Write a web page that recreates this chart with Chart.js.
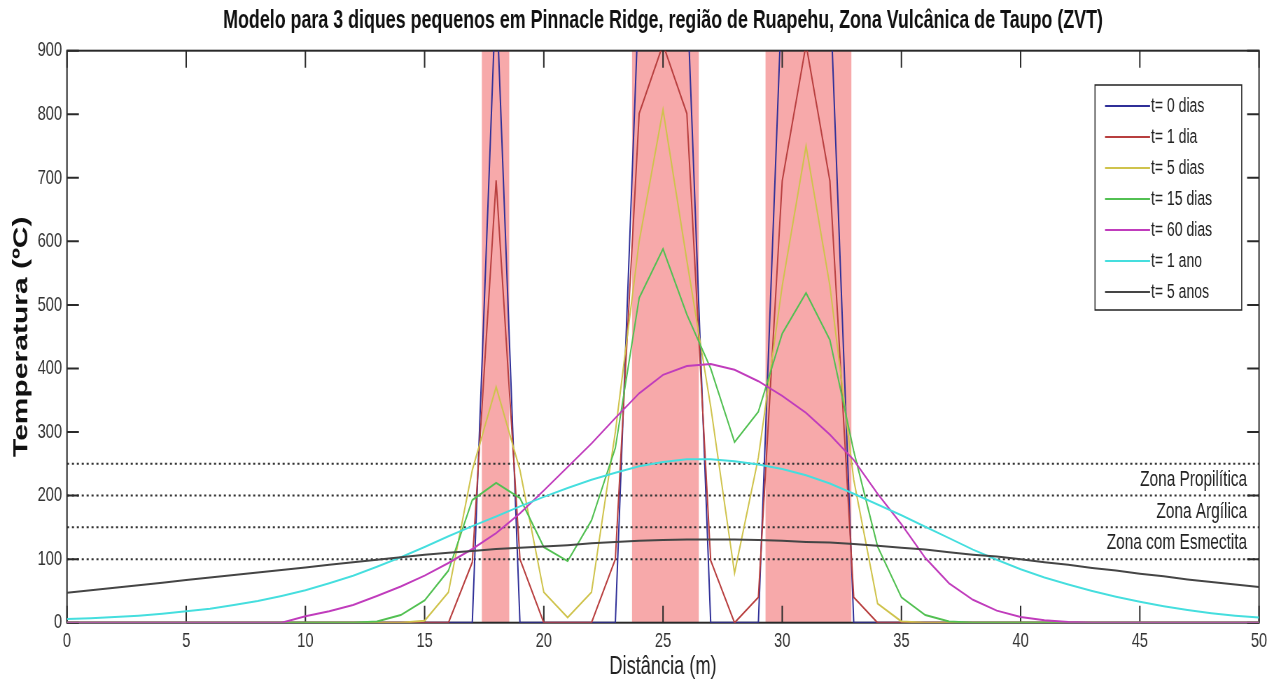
<!DOCTYPE html>
<html lang="pt">
<head>
<meta charset="utf-8">
<title>Modelo para 3 diques pequenos - Pinnacle Ridge</title>
<script src="https://cdn.jsdelivr.net/npm/chart.js@4.4.1/dist/chart.umd.min.js"></script>
<style>
    html, body { margin: 0; padding: 0; background: #fff; overflow: hidden; }
    /* A figura original vem "apertada" na horizontal: desenha-se larga e comprime-se */
    #moldura { width: 1817px; height: 685px; transform: scaleX(0.7); transform-origin: 0 0; }
</style>
</head>
<body>
<div id="moldura"><canvas id="graficoDiques"></canvas></div>
<script>
/* =========================================================
   ARREFECIMENTO DE 3 DIQUES - PINNACLE RIDGE (RUAPEHU, ZVT)
   ========================================================= */

// 1. Dados (malha de 1 m)
const distancia = [0,1,2,3,4,5,6,7,8,9,10,11,12,13,14,15,16,17,18,19,20,21,22,23,24,25,
                   26,27,28,29,30,31,32,33,34,35,36,37,38,39,40,41,42,43,44,45,46,47,48,49,50];

const t0Dias  = [0,0,0,0,0,0,0,0,0,0,0,0,0,0,0,0,0,0,1000,0,0,0,0,0,1000,1000,
                 1000,0,0,0,1000,1000,1000,0,0,0,0,0,0,0,0,0,0,0,0,0,0,0,0,0,0];
const t1Dia   = [0,0,0,0,0,0,0,0,0,0,0,0,0,0,0,0,0,95,696,100,0,0,0,100,801,910,
                 801,98,0,40,695,910,695,40,0,0,0,0,0,0,0,0,0,0,0,0,0,0,0,0,0];
const t5Dias  = [0,0,0,0,0,0,0,0,0,0,0,0,0,0,0,3,48,240,371,240,48,8,48,300,600,807,
                 570,340,78,260,530,750,530,225,30,2,0,0,0,0,0,0,0,0,0,0,0,0,0,0,0];
const t15Dias = [0,0,0,0,0,0,0,0,0,0,0,0,0,2,12,35,82,193,220,196,119,97,161,275,511,588,
                 485,400,284,332,455,519,445,270,120,40,12,2,0,0,0,0,0,0,0,0,0,0,0,0,0];
const t60Dias = [0,0,0,0,0,0,0,0,0,0,10,18,28,42,57,74,94,116,141,172,208,245,282,322,361,390,
                 404,407,398,380,357,330,296,256,203,155,102,62,36,19,9,4,1,0,0,0,0,0,0,0,0];
const t1Ano   = [6,7,9,11,14,18,22,28,34,42,51,62,74,88,103,119,136,152,167,183,198,212,225,236,246,253,
                 257,257,254,249,242,232,219,203,186,169,151,133,115,99,84,71,60,50,41,33,26,20,15,11,8];
const t5Anos  = [47,51,55,59,63,67,71,75,79,83,87,91,95,99,103,107,110,113,116,118,120,122,125,127,129,130,
                 131,131,131,130,129,127,126,124,121,118,115,111,107,104,100,95,91,86,82,77,73,68,64,60,56];

const legendas = ['t= 0 dias', 't= 1 dia', 't= 5 dias', 't= 15 dias', 't= 60 dias', 't= 1 ano', 't= 5 anos'];

// Limites dos diques (m) e níveis das zonas de alteração (ºC)
const diqueInicio = [17.4, 23.7, 29.3];
const diqueFim    = [18.55, 26.5, 32.9];
const niveisZona  = [100, 150, 200, 250];
const nomesZona   = ['Zona com Esmectita', 'Zona Argílica', 'Zona Propilítica'];

const TITULO = 'Modelo para 3 diques pequenos em Pinnacle Ridge, região de Ruapehu, Zona Vulcânica de Taupo (ZVT)';

// 2. Estilos
const cores = ['#2f2f98', '#b83f3f', '#cfc34c', '#52c052', '#c03cbc', '#45dede', '#454545'];
const FONTE = '"Liberation Sans", Arial, sans-serif';
const TRACO = 17; // comprimento das marcas interiores

/**
 * FUNDO: faixas dos diques, pontilhado das zonas, caixa e marcas
 */
const pluginFundo = {
    id: 'fundoDiques',
    beforeDatasetsDraw(chart) {
        const { ctx, chartArea: a, scales: { x, y } } = chart;
        ctx.save();

        ctx.fillStyle = '#f7a9aa';
        diqueInicio.forEach((ini, i) => {
            const x0 = x.getPixelForValue(ini);
            const x1 = x.getPixelForValue(diqueFim[i]);
            ctx.fillRect(x0, a.top, x1 - x0, a.bottom - a.top);
        });

        ctx.strokeStyle = '#333';
        ctx.lineWidth = 2;
        ctx.setLineDash([3, 4]);
        niveisZona.forEach(v => {
            const py = y.getPixelForValue(v);
            ctx.beginPath();
            ctx.moveTo(a.left, py);
            ctx.lineTo(a.right, py);
            ctx.stroke();
        });
        ctx.setLineDash([]);

        // caixa (estilo MATLAB, marcas para dentro nos 4 lados)
        ctx.strokeStyle = '#2a2a2a';
        ctx.strokeRect(a.left, a.top, a.right - a.left, a.bottom - a.top);
        ctx.beginPath();
        x.ticks.forEach(t => {
            const px = x.getPixelForValue(t.value);
            ctx.moveTo(px, a.bottom); ctx.lineTo(px, a.bottom - TRACO);
            ctx.moveTo(px, a.top);    ctx.lineTo(px, a.top + TRACO);
        });
        y.ticks.forEach(t => {
            const py = y.getPixelForValue(t.value);
            ctx.moveTo(a.left, py);  ctx.lineTo(a.left + TRACO, py);
            ctx.moveTo(a.right, py); ctx.lineTo(a.right - TRACO, py);
        });
        ctx.stroke();
        ctx.restore();
    },

    afterDatasetsDraw(chart) {
        const { ctx, chartArea: a, scales: { y } } = chart;
        ctx.save();

        // título centrado sobre a área do gráfico (como no MATLAB)
        ctx.fillStyle = '#111';
        ctx.font = `bold 25.5px ${FONTE}`;
        ctx.textAlign = 'center';
        ctx.textBaseline = 'middle';
        ctx.fillText(TITULO, (a.left + a.right) / 2, 21);

        // nomes das zonas, a meio de cada intervalo
        ctx.fillStyle = '#222';
        ctx.font = `22px ${FONTE}`;
        ctx.textAlign = 'right';
        nomesZona.forEach((nome, i) => {
            const v = (niveisZona[i] + niveisZona[i + 1]) / 2;
            ctx.fillText(nome, a.right - 17, y.getPixelForValue(v));
        });

        // legenda dentro da área do gráfico
        const caixaDir = a.right - 24.7;
        const caixaEsq = caixaDir - 209.6;
        const caixaTopo = a.top + 34.3;
        ctx.fillStyle = '#fff';
        ctx.fillRect(caixaEsq, caixaTopo, caixaDir - caixaEsq, 225);
        ctx.strokeStyle = '#222';
        ctx.lineWidth = 1.5;
        ctx.strokeRect(caixaEsq, caixaTopo, caixaDir - caixaEsq, 225);

        ctx.font = `20px ${FONTE}`;
        ctx.textAlign = 'left';
        chart.data.datasets.forEach((ds, i) => {
            const py = a.top + 55.3 + 31 * i;
            ctx.strokeStyle = ds.borderColor;
            ctx.lineWidth = 2;
            ctx.beginPath();
            ctx.moveTo(caixaEsq + 14.3, py);
            ctx.lineTo(caixaEsq + 78.6, py);
            ctx.stroke();
            ctx.fillStyle = '#222';
            ctx.fillText(ds.label, caixaEsq + 80, py);
        });
        ctx.restore();
    }
};

// 3. Montagem do gráfico
const series = [t0Dias, t1Dia, t5Dias, t15Dias, t60Dias, t1Ano, t5Anos];

const datasets = series.map((valores, i) => ({
    label: legendas[i],
    data: distancia.map((d, k) => ({ x: d, y: valores[k] })),
    borderColor: cores[i],
    backgroundColor: cores[i],
    borderWidth: 2,
    pointRadius: 0,
    tension: 0,
    order: series.length - 1 - i // como no MATLAB: a última curva fica por cima
}));

new Chart(document.getElementById('graficoDiques'), {
    type: 'line',
    data: { datasets },
    plugins: [pluginFundo],
    options: {
        responsive: true,
        maintainAspectRatio: false,
        animation: false,
        layout: { padding: { left: 0, right: 18.4, top: 50.7, bottom: 0 } },
        plugins: {
            legend: { display: false },
            tooltip: { enabled: false },
            title: { display: false }
        },
        scales: {
            x: {
                type: 'linear',
                min: 0,
                max: 50,
                grid: { display: false, drawTicks: false },
                border: { display: false },
                ticks: { stepSize: 5, padding: 6, color: '#333', font: { family: FONTE, size: 21 } },
                title: {
                    display: true,
                    text: 'Distância (m)',
                    color: '#222',
                    font: { family: FONTE, size: 26, lineHeight: 1 },
                    padding: { top: 0, bottom: 5 }
                },
                afterFit(s) { s.height = 62.3; }
            },
            y: {
                min: 0,
                max: 900,
                grid: { display: false, drawTicks: false },
                border: { display: false },
                ticks: { stepSize: 100, padding: 7, color: '#333', font: { family: FONTE, size: 21 } },
                title: {
                    display: true,
                    text: 'Temperatura (ºC)',
                    color: '#111',
                    font: { family: FONTE, size: 30, weight: 'bold', lineHeight: 1 },
                    padding: { top: 16, bottom: 0 }
                },
                afterFit(s) { s.width = 95.7; }
            }
        }
    }
});
</script>
</body>
</html>
